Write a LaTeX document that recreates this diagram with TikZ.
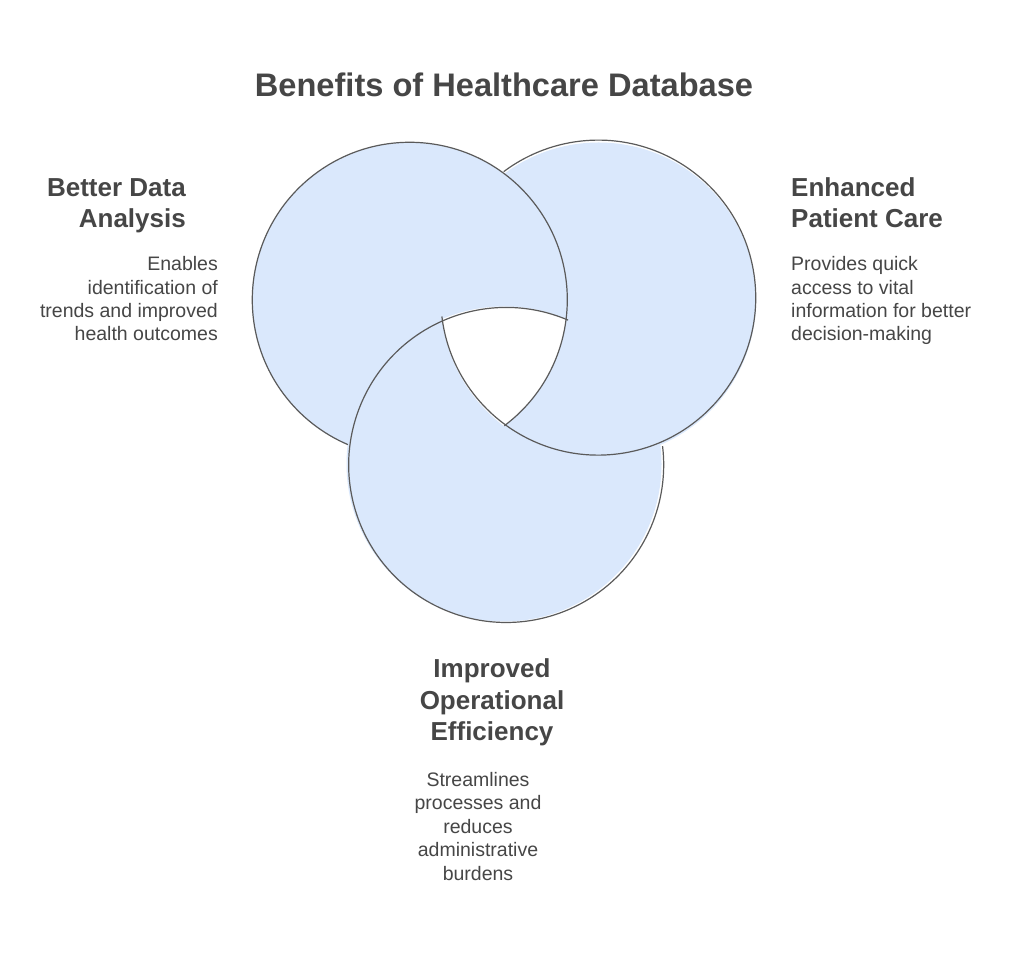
\documentclass[tikz,border=0pt]{standalone}
\usepackage{fontspec}
\setmainfont{Liberation Sans}
\definecolor{ringfill}{HTML}{DAE8FC}
\definecolor{ringline}{HTML}{5A5A5A}
\definecolor{txt}{HTML}{464646}
\begin{document}
\begin{tikzpicture}[x=1pt,y=1pt,
  ring/.style={circle, minimum size=315pt, inner sep=0pt, outer sep=0pt, fill=ringfill},
  rim/.style={draw=ringline, line width=1.2pt},
  titletext/.style={font=\fontsize{32.6}{39}\selectfont\bfseries, text=txt, inner sep=0pt},
  headtext/.style={font=\fontsize{26}{31.4}\selectfont\bfseries, text=txt, inner sep=0pt},
  desctext/.style={font=\fontsize{19.5}{23.4}\selectfont, text=txt, inner sep=0pt}]
\useasboundingbox (0,0) rectangle (1024,953);
\fill[white] (0,0) rectangle (1024,953);

% circles (filled)
\node[ring] (cL) at (409.5,653) {};
\node[ring] (cR) at (598.5,653) {};
\node[ring] (cB) at (504,489) {};

% white centre (triple overlap)
\begin{scope}
  \clip (cL.center) circle[radius=157.5pt];
  \clip (cR.center) circle[radius=157.5pt];
  \fill[white] (cB.center) circle[radius=157.5pt];
\end{scope}

% interlocking outlines
\draw[rim] (cL.-53.13) arc[start angle=-53.13, end angle=246.87, radius=157.5pt];
\draw[rim] (cR.186.87) arc[start angle=186.87, end angle=486.87, radius=157.5pt];
\draw[rim] (cB.66.87) arc[start angle=66.87, end angle=366.87, radius=157.5pt];

% texts (base anchor = baseline of the last line)
\node[titletext, anchor=base] (title) at (504,856) {Benefits of Healthcare Database};

\node[headtext, anchor=base east, align=right] (hL) at (186,725) {Better Data\\Analysis};
\node[desctext, anchor=base east, align=right] (dL) at (218,612)
  {Enables\\identification of\\trends and improved\\health outcomes};

\node[headtext, anchor=base west, align=left] (hR) at (791,725) {Enhanced\\Patient Care};
\node[desctext, anchor=base west, align=left] (dR) at (791,612)
  {Provides quick\\access to vital\\information for better\\decision-making};

\node[headtext, anchor=base, align=center] (hB) at (492,212.5) {Improved\\Operational\\Efficiency};
\node[desctext, anchor=base, align=center] (dB) at (478,73)
  {Streamlines\\processes and\\reduces\\administrative\\burdens};
\end{tikzpicture}
\end{document}
